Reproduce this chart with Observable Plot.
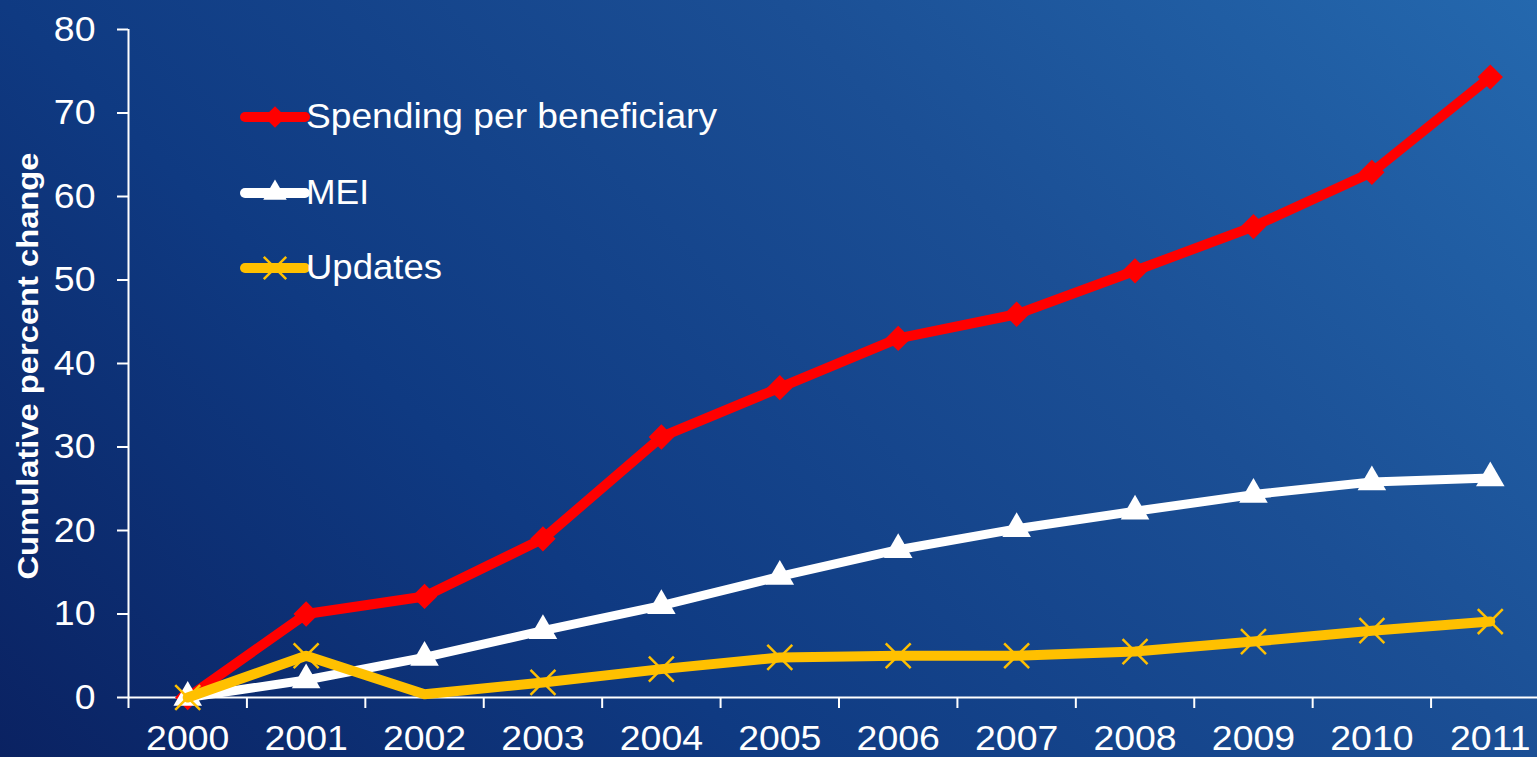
<!DOCTYPE html>
<html><head><meta charset="utf-8">
<script src="https://cdn.jsdelivr.net/npm/d3@7"></script>
<script src="https://cdn.jsdelivr.net/npm/@observablehq/plot@0.6"></script>
<style>
html,body{margin:0;padding:0;width:1537px;height:757px;overflow:hidden;}
body{background:linear-gradient(45deg,#0a2262 0%,#0f3a82 33%,#1b4f95 67%,#2468ae 100%);font-family:"Liberation Sans",Arial,sans-serif;}
#chart{position:relative;width:1537px;height:757px;}
#chart svg{position:absolute;left:0;top:0;}
</style></head><body><div id="chart"></div>
<script>
const years = [2000,2001,2002,2003,2004,2005,2006,2007,2008,2009,2010,2011];
const spending = [0,10.0,12.1,19.0,31.2,37.1,43.0,45.9,51.1,56.4,62.9,74.3];
const mei = [0,2.1,4.8,8.0,11.0,14.5,17.7,20.2,22.3,24.3,25.8,26.3];
const updates = [0,5.0,0.4,1.8,3.4,4.8,5.0,5.0,5.5,6.7,8.0,9.1];
const yTicks = [0,10,20,30,40,50,60,70,80];
const seriesNames = ["Spending per beneficiary","MEI","Updates"];
const seriesColors = ["#ff0000","#ffffff","#ffc000"];
const yLabel = "Cumulative percent change";

const rows = (vals) => years.map((yr,i)=>({year:yr, value:vals[i], i}));
const sp = rows(spending), me = rows(mei), up = rows(updates);
const bounds = d3.range(years[0]-0.5, years[years.length-1]+1, 1);

const plot = Plot.plot({
  width:1537, height:757,
  marginLeft:128, marginRight:0, marginTop:29, marginBottom:60,
  style:{background:"transparent", color:"white", fontFamily:"Liberation Sans, Arial, sans-serif", fontSize:"35px"},
  x:{type:"linear", domain:[years[0]-0.5, years[years.length-1]+0.5], range:[128,1549]},
  y:{domain:[0,80], range:[697,29]},
  marks:[
    Plot.ruleX([years[0]-0.5],{y1:0,y2:80,stroke:"white",strokeWidth:2}),
    Plot.ruleY([0],{stroke:"white",strokeWidth:2}),
    Plot.axisY({ticks:yTicks, tickSize:11, tickPadding:22, fontSize:35, tickFormat:d=>String(d), label:null, stroke:"white", strokeWidth:2}),
    Plot.axisX({ticks:bounds, tickSize:11, tickFormat:()=>"", label:null, stroke:"white", strokeWidth:2}),
    Plot.axisX({ticks:years, tickSize:0, tickPadding:28, fontSize:35, tickFormat:d=>String(d), label:null}),
    Plot.line(sp,{x:"year",y:"value",stroke:seriesColors[0],strokeWidth:10,strokeLinejoin:"round"}),
    Plot.dot(sp,{x:"year",y:"value",symbol:"diamond2",r:11.4,fill:seriesColors[0],stroke:"none"}),
    Plot.line(me,{x:"year",y:"value",stroke:seriesColors[1],strokeWidth:9,strokeLinejoin:"round"}),
    Plot.dot(me,{x:"year",y:"value",symbol:"triangle",r:10.6,fill:seriesColors[1],stroke:"none"}),
    Plot.line(up,{x:"year",y:"value",stroke:seriesColors[2],strokeWidth:10,strokeLinejoin:"round"}),
    Plot.dot(up.filter(d=>d.i!==2),{x:"year",y:"value",symbol:"times",r:11.4,stroke:seriesColors[2],strokeWidth:2.5,fill:"none"})
  ]
});
const host = document.getElementById("chart");
host.appendChild(plot);

// slightly widen tick labels to match reference proportions
plot.querySelectorAll('g[aria-label$="tick label"] text').forEach(t=>{
  const L = t.getComputedTextLength();
  if (L>0){ t.setAttribute("textLength", (L*1.07).toFixed(1)); t.setAttribute("lengthAdjust","spacingAndGlyphs"); }
});

// legend + y label overlay
const ns = "http://www.w3.org/2000/svg";
const ov = d3.select(host).append("svg").attr("width",1537).attr("height",757)
  .attr("xmlns",ns).style("font-family","Liberation Sans, Arial, sans-serif");
ov.append("text").attr("transform","translate(38,366) rotate(-90)")
  .attr("text-anchor","middle").attr("fill","white").attr("font-weight","bold")
  .attr("font-size",30).attr("textLength",427).attr("lengthAdjust","spacingAndGlyphs").text(yLabel);

const legY = [117,193,268];
const legLens = [411,63,136];
const syms = [d3.symbolDiamond2, d3.symbolTriangle, d3.symbolTimes];
const symSizes = [300, 240, 330];
seriesNames.forEach((name,k)=>{
  const g = ov.append("g").attr("transform",`translate(0,${legY[k]})`);
  g.append("line").attr("x1",245).attr("x2",305).attr("y1",0).attr("y2",0)
    .attr("stroke",seriesColors[k]).attr("stroke-width",10).attr("stroke-linecap","round");
  const p = g.append("path").attr("transform","translate(275,0)")
    .attr("d", d3.symbol(syms[k], symSizes[k])());
  if (k===2) p.attr("fill","none").attr("stroke",seriesColors[k]).attr("stroke-width",2.5);
  else p.attr("fill",seriesColors[k]);
  g.append("text").attr("x",306).attr("y",11).attr("fill","white").attr("font-size",35)
    .attr("textLength",legLens[k]).attr("lengthAdjust","spacingAndGlyphs").text(name);
});
</script>
</body></html>
